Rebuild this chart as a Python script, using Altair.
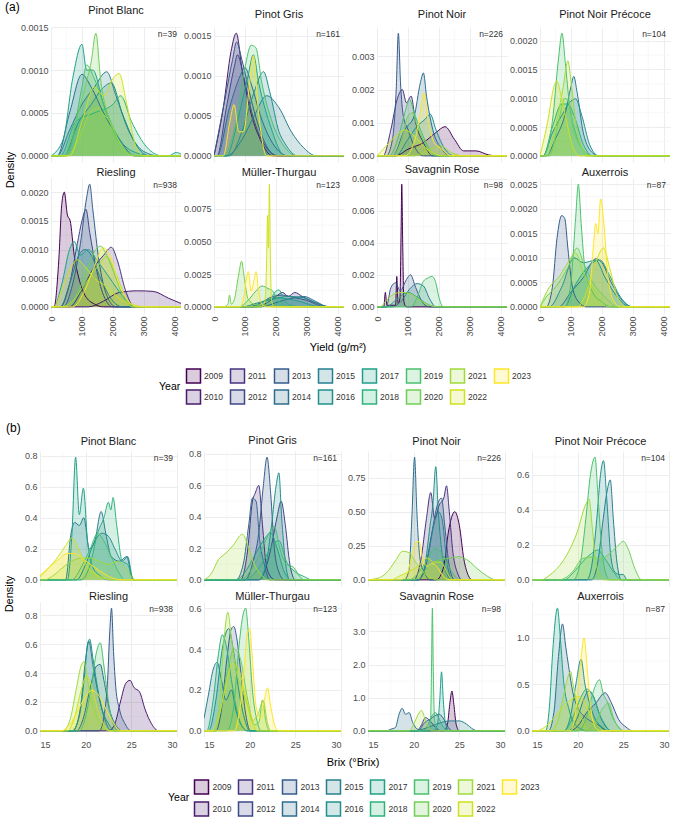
import altair as alt
import pandas as pd

FONT = "Liberation Sans"

# ---- shared categories ----------------------------------------------------
YEARS = [str(y) for y in range(2009, 2024)]
PALETTE = ["#440154", "#481B6D", "#46337E", "#3F4889", "#365C8D", "#2E6E8E",
           "#277F8E", "#21908C", "#1FA187", "#2DB27D", "#4AC16D", "#71CF57",
           "#9FDA3A", "#CFE11C", "#FDE725"]
VARIETIES = ["Pinot Blanc", "Pinot Gris", "Pinot Noir", "Pinot Noir Précoce",
             "Riesling", "Müller-Thurgau", "Savagnin Rose", "Auxerrois"]
N_OBS = [39, 161, 226, 104, 938, 123, 98, 87]

# ---- (a) yield density curves: {year: [(yield g/m2, density), ...]} -------
YIELD_PINOT_BLANC = {
    2014: [(200, 0), (600, 5.0e-4), (1000, 9.5e-4), (1300, 8.0e-4), (1700, 5.0e-4), (2200, 2.0e-4), (2700, 0)],
    2015: [(200, 0), (600, 3.0e-4), (1000, 6.0e-4), (1400, 8.0e-4), (1800, 9.8e-4), (2100, 7.0e-4), (2500, 3.0e-4), (3000, 0.5e-4), (3500, 0)],
    2016: [(400, 0), (900, 4.0e-4), (1300, 6.0e-4), (1700, 8.0e-4), (1950, 8.5e-4), (2300, 5.0e-4), (2800, 1.0e-4), (3200, 0)],
    2017: [(0, 0), (400, 2.0e-4), (700, 9.0e-4), (1000, 13.0e-4), (1150, 10.0e-4), (1350, 10.0e-4), (1700, 6.0e-4), (2200, 2.0e-4), (2800, 0.3e-4), (3300, 0), (3800, 0), (4050, 0.4e-4), (4200, 0.2e-4)],
    2018: [(300, 0), (800, 4.0e-4), (1400, 5.0e-4), (2000, 6.0e-4), (2250, 7.0e-4), (2600, 4.0e-4), (3100, 1.0e-4), (3600, 0)],
    2019: [(500, 0), (1000, 8.0e-4), (1150, 10.6e-4), (1400, 9.0e-4), (1800, 5.0e-4), (2300, 1.0e-4), (2800, 0)],
    2020: [(400, 0), (800, 4.0e-4), (1100, 8.0e-4), (1300, 11.0e-4), (1450, 14.3e-4), (1600, 9.0e-4), (1900, 4.0e-4), (2300, 1.0e-4), (2700, 0)],
    2021: [(500, 0), (900, 2.0e-4), (1250, 5.0e-4), (1500, 5.6e-4), (1650, 5.0e-4), (1900, 4.0e-4), (2300, 1.0e-4), (2700, 0)],
    2022: [(600, 0), (1000, 4.0e-4), (1400, 8.0e-4), (1700, 7.0e-4), (2000, 9.0e-4), (2200, 9.6e-4), (2450, 6.0e-4), (2750, 1.0e-4), (3000, 0)],
}
YIELD_PINOT_GRIS = {
    2010: [(0, 0), (300, 6e-4), (550, 13e-4), (720, 15.3e-4), (900, 11e-4), (1150, 6e-4), (1500, 2e-4), (1900, 0)],
    2012: [(100, 0), (400, 6e-4), (650, 11e-4), (760, 12.6e-4), (950, 10e-4), (1250, 5e-4), (1700, 1e-4), (2100, 0)],
    2013: [(0, 0), (350, 7e-4), (600, 12e-4), (730, 14.2e-4), (900, 12e-4), (1200, 7e-4), (1600, 2e-4), (2000, 0)],
    2014: [(100, 0), (500, 6e-4), (850, 10e-4), (1000, 11e-4), (1200, 9e-4), (1500, 5e-4), (2000, 1e-4), (2400, 0)],
    2015: [(400, 0), (900, 2e-4), (1300, 5e-4), (1700, 7.5e-4), (2100, 6e-4), (2500, 3e-4), (2900, 1e-4), (3300, 0)],
    2016: [(500, 0), (900, 3e-4), (1300, 8e-4), (1600, 10.5e-4), (1800, 8e-4), (2100, 3e-4), (2300, 1.5e-4), (2700, 0)],
    2017: [(400, 0), (800, 5e-4), (1100, 10e-4), (1270, 12.6e-4), (1450, 9e-4), (1800, 4e-4), (2300, 0)],
    2019: [(300, 0), (700, 4e-4), (1000, 11e-4), (1200, 13.8e-4), (1350, 13.5e-4), (1550, 9e-4), (1900, 4e-4), (2300, 1e-4), (2700, 0)],
    2023: [(300, 0), (500, 4e-4), (650, 6.4e-4), (800, 3e-4), (950, 3e-4), (1150, 9e-4), (1270, 12.5e-4), (1450, 5e-4), (1700, 0)],
}
YIELD_PINOT_NOIR = {
    2009: [(600, 0), (1000, 2e-4), (1500, 4e-4), (1900, 7e-4), (2200, 8.8e-4), (2500, 5e-4), (2800, 1.5e-4), (3200, 1.5e-4), (3600, 0.3e-4), (3900, 0)],
    2011: [(200, 0), (450, 8e-4), (650, 17e-4), (820, 20e-4), (950, 16e-4), (1100, 18e-4), (1250, 10e-4), (1500, 4e-4), (1800, 0)],
    2013: [(300, 0), (500, 5e-4), (620, 20e-4), (690, 37e-4), (760, 22e-4), (850, 12e-4), (1000, 8e-4), (1200, 3e-4), (1500, 0)],
    2014: [(500, 0), (900, 8e-4), (1200, 12e-4), (1400, 22e-4), (1500, 25e-4), (1600, 18e-4), (1800, 8e-4), (2100, 2e-4), (2400, 0)],
    2016: [(600, 0), (1000, 5e-4), (1300, 9e-4), (1550, 11e-4), (1720, 12.6e-4), (1900, 8e-4), (2200, 2e-4), (2500, 0)],
    2019: [(400, 0), (700, 6e-4), (900, 13e-4), (1050, 17e-4), (1200, 13e-4), (1400, 8e-4), (1700, 2e-4), (2000, 0)],
    2020: [(500, 0), (800, 5e-4), (1000, 12e-4), (1150, 13e-4), (1300, 9e-4), (1600, 3e-4), (1900, 0)],
    2021: [(1200, 0), (1700, 2e-4), (2050, 3e-4), (2400, 1e-4), (2800, 0)],
    2022: [(0, 0), (300, 3e-4), (600, 6e-4), (900, 7.8e-4), (1200, 6e-4), (1500, 3e-4), (1800, 1e-4), (2100, 0)],
    2023: [(900, 0), (1200, 4e-4), (1400, 13e-4), (1510, 19e-4), (1650, 11e-4), (1850, 4e-4), (2100, 2e-4), (2400, 0)],
}
YIELD_PINOT_NOIR_PRECOCE = {
    2015: [(200, 0), (500, 3e-4), (800, 7e-4), (1000, 12e-4), (1090, 13.8e-4), (1200, 11e-4), (1400, 4e-4), (1700, 0.5e-4), (1900, 0)],
    2016: [(100, 0), (400, 4e-4), (700, 7e-4), (1000, 9.5e-4), (1150, 9.9e-4), (1350, 7e-4), (1600, 2e-4), (1900, 0)],
    2018: [(100, 0), (400, 5e-4), (700, 9e-4), (900, 9e-4), (1100, 7e-4), (1400, 2e-4), (1700, 0)],
    2019: [(100, 0), (400, 6e-4), (600, 17e-4), (710, 21.3e-4), (820, 16e-4), (950, 9e-4), (1150, 4e-4), (1400, 1e-4), (1700, 0)],
    2020: [(300, 0), (600, 6e-4), (800, 10e-4), (950, 9e-4), (1100, 4e-4), (1300, 2e-4), (1500, 0)],
    2021: [(200, 0), (500, 5e-4), (750, 12e-4), (900, 16.5e-4), (1000, 13e-4), (1150, 6e-4), (1400, 1e-4), (1600, 0)],
    2022: [(0, 0), (250, 6e-4), (450, 12e-4), (540, 13e-4), (700, 10e-4), (900, 5e-4), (1100, 1e-4), (1300, 0)],
}
YIELD_RIESLING = {
    2009: [(100, 0), (250, 8e-4), (350, 18e-4), (430, 20e-4), (530, 16e-4), (620, 15e-4), (750, 9e-4), (900, 5e-4), (1100, 2e-4), (1400, 0.5e-4), (1700, 0)],
    2010: [(1200, 0), (1700, 1e-4), (2200, 2.5e-4), (2800, 2.8e-4), (3300, 2.7e-4), (3800, 1.5e-4), (4200, 0.6e-4)],
    2011: [(600, 0), (1000, 3e-4), (1400, 7e-4), (1700, 9e-4), (1950, 10.4e-4), (2150, 8e-4), (2400, 3e-4), (2700, 0)],
    2012: [(300, 0), (600, 4e-4), (850, 11e-4), (1000, 15e-4), (1130, 17e-4), (1250, 13e-4), (1450, 7e-4), (1700, 2e-4), (2000, 0)],
    2013: [(400, 0), (700, 4e-4), (950, 11e-4), (1150, 19e-4), (1250, 21.4e-4), (1350, 17e-4), (1550, 8e-4), (1800, 2e-4), (2100, 0)],
    2015: [(300, 0), (600, 4e-4), (900, 9e-4), (1100, 10e-4), (1300, 9e-4), (1600, 5e-4), (2000, 1e-4), (2300, 0)],
    2017: [(100, 0), (350, 4e-4), (600, 10e-4), (750, 11.4e-4), (950, 9e-4), (1200, 10e-4), (1500, 8e-4), (1900, 5e-4), (2300, 2e-4), (2700, 0)],
    2020: [(500, 0), (900, 3e-4), (1200, 7e-4), (1450, 10e-4), (1600, 10.6e-4), (1800, 9e-4), (2100, 5e-4), (2400, 1e-4), (2700, 0)],
    2021: [(300, 0), (700, 1e-4), (1100, 4e-4), (1500, 7e-4), (1800, 8.8e-4), (2000, 7e-4), (2300, 3e-4), (2600, 0)],
    2022: [(100, 0), (350, 3e-4), (650, 7e-4), (860, 8.2e-4), (1100, 7e-4), (1400, 5e-4), (1800, 3.5e-4), (2200, 1.5e-4), (2700, 0.3e-4), (3100, 0)],
    2023: [(700, 0), (1100, 3e-4), (1400, 7e-4), (1700, 10.3e-4), (1900, 9e-4), (2200, 4e-4), (2500, 1e-4), (2800, 0)],
}
YIELD_MULLER_THURGAU = {
    2011: [(1300, 0), (1700, 3e-4), (2000, 8e-4), (2220, 11e-4), (2400, 8e-4), (2610, 11e-4), (2850, 8e-4), (3100, 5e-4), (3400, 2e-4), (3800, 0)],
    2013: [(1100, 0), (1500, 3e-4), (1900, 8e-4), (2200, 9e-4), (2600, 7e-4), (3000, 5e-4), (3400, 1e-4), (3700, 0)],
    2014: [(1500, 0), (2100, 4e-4), (2600, 7e-4), (2900, 8e-4), (3300, 4e-4), (3700, 0)],
    2016: [(900, 0), (1400, 3e-4), (1900, 6e-4), (2400, 8e-4), (2900, 7e-4), (3300, 3e-4), (3700, 0)],
    2017: [(1200, 0), (1700, 5e-4), (2000, 7e-4), (2400, 6e-4), (2800, 4e-4), (3200, 1e-4), (3500, 0)],
    2018: [(1500, 0), (1800, 5e-4), (2000, 12e-4), (2100, 13e-4), (2250, 6e-4), (2500, 1e-4), (2800, 0)],
    2019: [(800, 0), (1100, 5e-4), (1350, 12e-4), (1550, 16e-4), (1750, 14e-4), (1900, 12e-4), (2050, 6e-4), (2300, 0)],
    2020: [(300, 0), (450, 2e-4), (500, 9e-4), (560, 2e-4), (650, 5e-4), (800, 25e-4), (890, 35e-4), (980, 22e-4), (1100, 6e-4), (1300, 2e-4), (1600, 1e-4), (1900, 0)],
    2022: [(1550, 0), (1650, 5e-4), (1700, 35e-4), (1730, 70e-4), (1760, 45e-4), (1790, 94e-4), (1820, 40e-4), (1860, 5e-4), (1950, 0)],
    2023: [(850, 0), (950, 6e-4), (1050, 22e-4), (1110, 27e-4), (1200, 12e-4), (1290, 20e-4), (1360, 27e-4), (1440, 12e-4), (1550, 2e-4), (1700, 0)],
}
YIELD_SAVAGNIN_ROSE = {
    2009: [(220, 0), (270, 9e-4), (320, 1e-4), (600, 1e-4), (640, 19e-4), (680, 2e-4), (740, 5e-4), (780, 50e-4), (800, 76.5e-4), (830, 40e-4), (870, 3e-4), (950, 0)],
    2013: [(300, 0), (450, 12e-4), (600, 15e-4), (750, 10e-4), (950, 17e-4), (1080, 20e-4), (1250, 12e-4), (1500, 2e-4), (1700, 0)],
    2015: [(500, 0), (800, 4e-4), (1050, 11e-4), (1300, 14.5e-4), (1500, 13e-4), (1700, 5e-4), (1900, 0)],
    2017: [(300, 0), (600, 4e-4), (1000, 9e-4), (1300, 6e-4), (1600, 2e-4), (1900, 0)],
    2019: [(1100, 0), (1300, 6e-4), (1500, 16e-4), (1650, 18e-4), (1780, 19e-4), (1900, 15e-4), (2000, 6e-4), (2150, 0)],
    2021: [(100, 0), (300, 4e-4), (550, 8e-4), (800, 9e-4), (1100, 8e-4), (1400, 4e-4), (1700, 1e-4), (2000, 0)],
}
YIELD_AUXERROIS = {
    2013: [(200, 0), (400, 4e-4), (550, 14e-4), (700, 18.6e-4), (800, 18e-4), (900, 12e-4), (1050, 4e-4), (1250, 1e-4), (1500, 0)],
    2014: [(600, 0), (1000, 3e-4), (1400, 6e-4), (1800, 9.8e-4), (2000, 9e-4), (2300, 5e-4), (2700, 1e-4), (3000, 0)],
    2016: [(300, 0), (700, 4e-4), (1100, 10e-4), (1400, 9e-4), (1800, 9.5e-4), (2100, 6e-4), (2500, 2e-4), (2900, 0)],
    2017: [(800, 0), (1100, 4e-4), (1400, 7e-4), (1700, 9e-4), (1950, 9.5e-4), (2200, 7e-4), (2600, 2e-4), (3000, 0)],
    2019: [(800, 0), (1000, 5e-4), (1150, 18e-4), (1240, 25e-4), (1330, 17e-4), (1450, 8e-4), (1700, 3e-4), (2000, 1e-4), (2300, 0)],
    2020: [(0, 0), (200, 2e-4), (500, 4e-4), (900, 8e-4), (1200, 12e-4), (1400, 9e-4), (1700, 5e-4), (2100, 2e-4), (2500, 0)],
    2021: [(0, 0), (300, 4e-4), (600, 6e-4), (900, 9e-4), (1150, 11e-4), (1400, 7e-4), (1800, 3e-4), (2200, 0)],
    2022: [(1200, 0), (1500, 3e-4), (1800, 9e-4), (2050, 12e-4), (2250, 8e-4), (2500, 2e-4), (2800, 0)],
    2023: [(1400, 0), (1600, 3e-4), (1720, 12e-4), (1800, 17e-4), (1870, 15e-4), (1960, 22e-4), (2050, 18e-4), (2200, 6e-4), (2400, 1e-4), (2600, 0)],
}

# ---- (b) Brix density curves: {year: [(°Brix, density), ...]} ------------
BRIX_PINOT_BLANC = {
    2015: [(17.8, 0), (18.4, 0.3), (18.8, 0.37), (19.3, 0.35), (19.8, 0.4), (20.4, 0.2), (21.0, 0.25), (21.7, 0.44), (22.2, 0.3), (22.8, 0.15), (23.7, 0.12), (24.5, 0.15), (25.0, 0.03), (25.4, 0)],
    2016: [(19.0, 0), (20.0, 0.1), (21.0, 0.25), (21.8, 0.3), (22.5, 0.28), (23.2, 0.2), (24.0, 0.12), (24.6, 0.15), (25.2, 0)],
    2017: [(18.0, 0), (18.5, 0.3), (18.9, 0.79), (19.3, 0.42), (19.75, 0.59), (20.2, 0.25), (20.8, 0.08), (21.5, 0.03), (22.5, 0)],
    2018: [(19.5, 0), (20.5, 0.1), (21.3, 0.3), (22.0, 0.4), (22.5, 0.5), (22.75, 0.45), (23.0, 0.53), (23.4, 0.35), (24.0, 0.12), (24.6, 0.1), (25.2, 0)],
    2019: [(18.5, 0), (19.5, 0.08), (20.5, 0.2), (21.3, 0.3), (22.0, 0.25), (22.8, 0.15), (23.6, 0.05), (24.3, 0)],
    2021: [(15.5, 0), (16.5, 0.03), (17.5, 0.08), (18.5, 0.12), (19.5, 0.14), (20.5, 0.14), (21.5, 0.12), (22.5, 0.1), (23.5, 0.12), (24.3, 0.08), (25.0, 0.02), (25.5, 0)],
    2022: [(15.0, 0.02), (16.0, 0.08), (17.0, 0.15), (17.8, 0.22), (18.5, 0.27), (19.2, 0.2), (20.0, 0.1), (21.0, 0.04), (22.0, 0.01), (23.0, 0)],
    2023: [(15.0, 0.03), (16.0, 0.08), (17.0, 0.13), (18.0, 0.17), (18.8, 0.17), (19.8, 0.13), (21.0, 0.08), (22.0, 0.04), (23.0, 0.01), (24.0, 0)],
}
BRIX_PINOT_GRIS = {
    2011: [(19.0, 0), (19.8, 0.2), (20.3, 0.5), (20.6, 0.55), (21.0, 0.6), (21.4, 0.35), (21.8, 0.1), (22.3, 0.02), (22.8, 0)],
    2012: [(21.0, 0), (21.8, 0.08), (22.5, 0.25), (23.0, 0.4), (23.45, 0.5), (23.9, 0.35), (24.4, 0.1), (25.0, 0)],
    2013: [(19.5, 0), (20.3, 0.1), (21.0, 0.3), (21.5, 0.6), (21.9, 0.78), (22.3, 0.55), (22.7, 0.2), (23.2, 0.05), (23.8, 0)],
    2014: [(18.5, 0), (19.3, 0.1), (19.9, 0.35), (20.3, 0.52), (20.7, 0.5), (21.1, 0.25), (21.6, 0.1), (22.2, 0)],
    2016: [(21.0, 0), (21.8, 0.1), (22.4, 0.35), (22.9, 0.6), (23.2, 0.68), (23.5, 0.4), (23.9, 0.12), (24.4, 0)],
    2017: [(18.5, 0), (19.5, 0.05), (20.5, 0.15), (21.5, 0.25), (22.3, 0.3), (23.0, 0.2), (23.8, 0.05), (24.5, 0)],
    2018: [(19.5, 0), (20.5, 0.04), (21.5, 0.12), (22.5, 0.22), (23.2, 0.25), (24.0, 0.12), (25.0, 0.05), (26.0, 0.02), (26.8, 0)],
    2019: [(19.0, 0), (20.0, 0.05), (21.0, 0.15), (22.0, 0.28), (22.7, 0.34), (23.3, 0.2), (24.0, 0.1), (24.8, 0.08), (25.5, 0.02), (26.0, 0)],
    2021: [(15.0, 0), (15.8, 0.04), (16.6, 0.13), (17.4, 0.17), (18.2, 0.22), (19.2, 0.29), (19.8, 0.22), (20.5, 0.1), (21.3, 0.03), (22.0, 0)],
}
BRIX_PINOT_NOIR = {
    2009: [(22.5, 0), (23.3, 0.1), (23.8, 0.35), (24.5, 0.5), (25.0, 0.4), (25.5, 0.15), (26.0, 0.03), (26.4, 0)],
    2011: [(20.0, 0), (20.8, 0.15), (21.4, 0.45), (21.87, 0.64), (22.3, 0.45), (22.8, 0.55), (23.3, 0.6), (23.6, 0.69), (23.9, 0.5), (24.3, 0.2), (24.8, 0.05), (25.3, 0)],
    2013: [(20.5, 0), (21.3, 0.1), (22.0, 0.35), (22.6, 0.55), (23.05, 0.6), (23.4, 0.4), (23.9, 0.1), (24.5, 0)],
    2014: [(19.0, 0), (19.5, 0.08), (19.8, 0.45), (20.1, 0.9), (20.35, 0.5), (20.7, 0.15), (21.2, 0.05), (21.8, 0)],
    2015: [(20.5, 0), (21.5, 0.15), (22.2, 0.4), (22.7, 0.5), (23.1, 0.45), (23.6, 0.15), (24.2, 0)],
    2016: [(20.5, 0), (21.2, 0.1), (21.8, 0.4), (22.1, 0.55), (22.42, 0.83), (22.7, 0.5), (23.1, 0.2), (23.6, 0.05), (24.2, 0)],
    2019: [(19.5, 0), (20.5, 0.05), (21.5, 0.15), (22.3, 0.23), (23.0, 0.2), (23.8, 0.1), (24.5, 0.03), (25.0, 0)],
    2020: [(20.0, 0), (21.0, 0.05), (22.0, 0.12), (23.0, 0.15), (24.0, 0.16), (25.0, 0.17), (26.0, 0.14), (27.0, 0.08), (28.0, 0.03), (29.0, 0)],
    2021: [(15.0, 0), (16.0, 0.01), (17.0, 0.05), (18.0, 0.14), (18.8, 0.21), (19.5, 0.2), (20.3, 0.12), (21.0, 0.06), (21.8, 0.02), (22.5, 0)],
    2022: [(17.5, 0), (18.5, 0.03), (19.5, 0.06), (20.5, 0.1), (21.5, 0.16), (22.2, 0.13), (23.0, 0.13), (23.6, 0.06), (24.3, 0)],
    2023: [(18.5, 0), (19.3, 0.05), (19.9, 0.2), (20.3, 0.28), (20.6, 0.28), (21.0, 0.15), (21.5, 0.1), (22.0, 0.12), (22.5, 0.1), (23.0, 0.05), (23.5, 0.01), (24.0, 0)],
}
BRIX_PINOT_NOIR_PRECOCE = {
    2015: [(21.5, 0), (22.2, 0.1), (22.8, 0.35), (23.2, 0.5), (23.57, 0.57), (23.9, 0.35), (24.3, 0.1), (24.8, 0)],
    2016: [(21.0, 0), (21.6, 0.1), (22.1, 0.35), (22.5, 0.6), (22.83, 0.68), (23.2, 0.45), (23.6, 0.15), (24.0, 0.05), (24.6, 0.03), (25.0, 0.03), (25.4, 0)],
    2018: [(18.5, 0), (19.5, 0.04), (20.5, 0.1), (21.5, 0.15), (22.2, 0.17), (23.0, 0.12), (24.0, 0.04), (24.8, 0)],
    2019: [(19.5, 0), (20.3, 0.1), (20.9, 0.35), (21.4, 0.6), (21.9, 0.7), (22.2, 0.5), (22.6, 0.2), (23.0, 0.05), (23.5, 0)],
    2020: [(18.0, 0), (19.5, 0.05), (20.5, 0.12), (21.5, 0.13), (22.5, 0.12), (23.5, 0.15), (24.5, 0.2), (25.0, 0.22), (25.5, 0.18), (26.3, 0.06), (27.0, 0)],
    2021: [(16.0, 0), (17.0, 0.03), (18.0, 0.08), (19.0, 0.16), (20.0, 0.28), (20.8, 0.42), (21.25, 0.46), (21.6, 0.3), (22.0, 0.1), (22.5, 0.02), (23.0, 0)],
}
BRIX_RIESLING = {
    2010: [(22.5, 0), (23.2, 0.05), (23.8, 0.2), (24.4, 0.33), (24.85, 0.35), (25.3, 0.3), (25.9, 0.27), (26.5, 0.15), (27.2, 0.05), (28.0, 0)],
    2013: [(21.5, 0), (22.0, 0.1), (22.4, 0.35), (22.65, 0.7), (22.83, 0.85), (23.05, 0.55), (23.3, 0.3), (23.7, 0.15), (24.3, 0.05), (25.0, 0)],
    2014: [(19.0, 0), (19.8, 0.1), (20.5, 0.3), (21.2, 0.45), (21.6, 0.46), (22.0, 0.35), (22.6, 0.15), (23.2, 0.05), (24.0, 0)],
    2015: [(18.6, 0), (19.4, 0.15), (20.0, 0.5), (20.35, 0.62), (20.8, 0.45), (21.4, 0.25), (22.0, 0.1), (22.8, 0)],
    2016: [(18.5, 0), (19.3, 0.1), (19.9, 0.4), (20.2, 0.6), (20.44, 0.635), (20.8, 0.5), (21.3, 0.3), (21.8, 0.15), (22.5, 0.05), (23.2, 0)],
    2019: [(19.3, 0), (20.0, 0.1), (20.6, 0.3), (21.2, 0.55), (21.6, 0.61), (22.0, 0.45), (22.5, 0.2), (23.0, 0.05), (23.6, 0)],
    2021: [(17.5, 0), (18.3, 0.08), (19.0, 0.3), (19.5, 0.45), (19.82, 0.48), (20.2, 0.35), (20.7, 0.2), (21.3, 0.08), (22.0, 0.02), (22.5, 0)],
    2022: [(18.0, 0), (18.8, 0.1), (19.5, 0.28), (20.1, 0.38), (20.7, 0.3), (21.3, 0.15), (22.0, 0.04), (22.6, 0)],
    2023: [(17.3, 0), (18.2, 0.04), (19.0, 0.12), (19.8, 0.22), (20.7, 0.28), (21.5, 0.24), (22.3, 0.14), (23.0, 0.06), (23.8, 0)],
}
BRIX_MULLER_THURGAU = {
    2013: [(16.3, 0), (16.9, 0.1), (17.5, 0.35), (18.0, 0.5), (18.27, 0.51), (18.6, 0.45), (19.0, 0.3), (19.5, 0.1), (20.1, 0)],
    2015: [(15.0, 0.06), (15.5, 0.18), (16.0, 0.3), (16.43, 0.335), (16.9, 0.25), (17.4, 0.15), (18.0, 0.2), (18.5, 0.1), (19.2, 0.02), (19.8, 0)],
    2016: [(15.5, 0), (16.3, 0.15), (17.0, 0.4), (17.7, 0.5), (18.2, 0.4), (18.8, 0.2), (19.5, 0.05), (20.0, 0)],
    2018: [(15.3, 0), (16.0, 0.15), (16.6, 0.38), (17.0, 0.47), (17.5, 0.4), (18.0, 0.25), (18.6, 0.1), (19.2, 0.02), (19.7, 0)],
    2019: [(17.5, 0), (18.2, 0.1), (18.8, 0.4), (19.2, 0.55), (19.56, 0.6), (19.9, 0.45), (20.3, 0.2), (20.8, 0.05), (21.3, 0)],
    2020: [(16.0, 0), (16.8, 0.1), (17.6, 0.3), (18.3, 0.4), (19.0, 0.35), (19.8, 0.15), (20.5, 0.03), (21.0, 0.04), (21.4, 0.15), (21.8, 0.04), (22.2, 0)],
    2021: [(16.0, 0), (16.7, 0.15), (17.2, 0.45), (17.61, 0.58), (18.0, 0.45), (18.5, 0.3), (19.2, 0.2), (19.8, 0.12), (20.3, 0.05), (20.9, 0.08), (21.5, 0.15), (21.9, 0.05), (22.3, 0)],
    2022: [(15.8, 0), (16.5, 0.05), (17.3, 0.2), (18.1, 0.33), (18.8, 0.3), (19.5, 0.18), (20.2, 0.07), (20.8, 0)],
    2023: [(18.3, 0), (18.9, 0.1), (19.4, 0.3), (19.75, 0.48), (20.0, 0.5), (20.3, 0.35), (20.7, 0.12), (21.2, 0.06), (21.6, 0.15), (21.95, 0.21), (22.3, 0.12), (22.8, 0.02), (23.2, 0)],
}
BRIX_SAVAGNIN_ROSE = {
    2009: [(23.3, 0), (23.7, 0.2), (23.95, 0.8), (24.19, 1.2), (24.4, 0.8), (24.65, 0.2), (25.0, 0)],
    2012: [(20.3, 0), (20.8, 0.15), (21.3, 0.4), (21.8, 0.3), (22.4, 0.1), (23.0, 0)],
    2013: [(20.5, 0), (21.2, 0.25), (21.8, 0.35), (22.3, 0.45), (22.8, 0.5), (23.3, 0.35), (23.8, 0.1), (24.3, 0)],
    2014: [(17.0, 0), (17.5, 0.05), (18.0, 0.1), (18.4, 0.5), (18.75, 0.68), (19.1, 0.5), (19.5, 0.55), (19.9, 0.25), (20.4, 0.05), (21.0, 0)],
    2015: [(20.0, 0), (21.0, 0.05), (22.0, 0.15), (23.0, 0.25), (24.0, 0.3), (25.0, 0.3), (25.8, 0.2), (26.5, 0.05), (27.0, 0)],
    2017: [(22.2, 0), (22.6, 0.2), (22.85, 0.9), (23.05, 1.78), (23.25, 0.9), (23.5, 0.2), (23.9, 0)],
    2018: [(21.0, 0), (21.5, 0.15), (22.0, 0.45), (22.4, 0.55), (22.8, 0.35), (23.3, 0.1), (23.8, 0)],
    2019: [(21.6, 0), (21.85, 0.3), (21.95, 1.8), (22.05, 3.7), (22.15, 1.8), (22.3, 0.3), (22.6, 0)],
    2021: [(19.5, 0), (20.0, 0.2), (20.5, 0.5), (20.84, 0.62), (21.2, 0.4), (21.6, 0.1), (22.0, 0)],
}
BRIX_AUXERROIS = {
    2013: [(19.0, 0), (20.0, 0.05), (21.0, 0.2), (22.0, 0.3), (23.0, 0.41), (23.7, 0.3), (24.5, 0.12), (25.3, 0.04), (26.0, 0)],
    2014: [(16.8, 0), (17.4, 0.2), (17.9, 0.8), (18.34, 1.15), (18.7, 0.9), (19.0, 0.7), (19.5, 0.4), (20.0, 0.25), (20.8, 0.15), (21.5, 0.1), (22.5, 0.05), (23.3, 0)],
    2015: [(19.0, 0), (20.0, 0.15), (20.7, 0.35), (21.2, 0.43), (21.8, 0.35), (22.5, 0.15), (23.2, 0.03), (23.8, 0)],
    2016: [(18.5, 0), (19.2, 0.15), (19.8, 0.5), (20.37, 0.77), (20.8, 0.5), (21.3, 0.3), (21.8, 0.15), (22.5, 0.05), (23.0, 0)],
    2017: [(16.5, 0), (16.9, 0.25), (17.3, 0.9), (17.79, 1.32), (18.1, 1.0), (18.5, 0.5), (19.0, 0.25), (19.5, 0.1), (20.2, 0.03), (21.0, 0)],
    2018: [(18.5, 0), (19.5, 0.15), (20.3, 0.35), (21.0, 0.45), (21.7, 0.38), (22.3, 0.2), (23.0, 0.07), (23.6, 0)],
    2019: [(20.0, 0), (20.8, 0.1), (21.5, 0.35), (22.0, 0.5), (22.39, 0.55), (22.8, 0.4), (23.3, 0.3), (23.8, 0.15), (24.5, 0.04), (25.0, 0)],
    2020: [(21.0, 0), (22.0, 0.1), (22.8, 0.25), (23.4, 0.3), (23.9, 0.15), (24.5, 0.03), (25.0, 0)],
    2021: [(17.0, 0), (17.8, 0.1), (18.5, 0.4), (19.0, 0.6), (19.22, 0.64), (19.5, 0.5), (20.0, 0.25), (20.6, 0.1), (21.2, 0)],
    2022: [(15.5, 0), (16.5, 0.05), (17.5, 0.15), (18.5, 0.27), (19.5, 0.35), (20.2, 0.37), (20.8, 0.3), (21.5, 0.15), (22.3, 0.04), (23.0, 0)],
    2023: [(19.2, 0), (19.7, 0.15), (20.2, 0.6), (20.7, 1.0), (21.1, 0.6), (21.5, 0.2), (22.0, 0.03), (22.5, 0)],
}

YIELD_CURVES = [YIELD_PINOT_BLANC, YIELD_PINOT_GRIS, YIELD_PINOT_NOIR, YIELD_PINOT_NOIR_PRECOCE,
                YIELD_RIESLING, YIELD_MULLER_THURGAU, YIELD_SAVAGNIN_ROSE, YIELD_AUXERROIS]
BRIX_CURVES = [BRIX_PINOT_BLANC, BRIX_PINOT_GRIS, BRIX_PINOT_NOIR, BRIX_PINOT_NOIR_PRECOCE,
               BRIX_RIESLING, BRIX_MULLER_THURGAU, BRIX_SAVAGNIN_ROSE, BRIX_AUXERROIS]

# ---- axis ticks and labels ------------------------------------------------
YIELD_DOMAIN = [0, 4200]
YIELD_XTICKS = [0, 1000, 2000, 3000, 4000]
YIELD_XMINOR = [500, 1500, 2500, 3500]
YIELD_YTICKS = [
    [0, 0.0005, 0.001, 0.0015],
    [0, 0.0005, 0.001, 0.0015],
    [0, 0.001, 0.002, 0.003],
    [0, 0.0005, 0.001, 0.0015, 0.002],
    [0, 0.0005, 0.001, 0.0015, 0.002],
    [0, 0.0025, 0.005, 0.0075],
    [0, 0.002, 0.004, 0.006, 0.008],
    [0, 0.0005, 0.001, 0.0015, 0.002, 0.0025],
]
YIELD_YLABELS = [
    ["0.0000", "0.0005", "0.0010", "0.0015"],
    ["0.0000", "0.0005", "0.0010", "0.0015"],
    ["0.000", "0.001", "0.002", "0.003"],
    ["0.0000", "0.0005", "0.0010", "0.0015", "0.0020"],
    ["0.0000", "0.0005", "0.0010", "0.0015", "0.0020"],
    ["0.0000", "0.0025", "0.0050", "0.0075"],
    ["0.000", "0.002", "0.004", "0.006", "0.008"],
    ["0.0000", "0.0005", "0.0010", "0.0015", "0.0020", "0.0025"],
]
BRIX_DOMAIN = [15, 30]
BRIX_XTICKS = [15, 20, 25, 30]
BRIX_XMINOR = [17.5, 22.5, 27.5]
BRIX_YTICKS = [
    [0, 0.2, 0.4, 0.6, 0.8],
    [0, 0.2, 0.4, 0.6, 0.8],
    [0, 0.25, 0.5, 0.75],
    [0, 0.2, 0.4, 0.6],
    [0, 0.2, 0.4, 0.6, 0.8],
    [0, 0.2, 0.4, 0.6],
    [0, 1, 2, 3],
    [0, 0.5, 1.0],
]
BRIX_YLABELS = [
    ["0.0", "0.2", "0.4", "0.6", "0.8"],
    ["0.0", "0.2", "0.4", "0.6", "0.8"],
    ["0.0", "0.25", "0.50", "0.75"],
    ["0.0", "0.2", "0.4", "0.6"],
    ["0.0", "0.2", "0.4", "0.6", "0.8"],
    ["0.0", "0.2", "0.4", "0.6"],
    ["0.0", "1.0", "2.0", "3.0"],
    ["0.0", "0.5", "1.0"],
]

# ---- styling --------------------------------------------------------------
PANEL_H = 135
GRID = "#EBEBEB"
GRID_MINOR = "#F4F4F4"
TICK_COLOR = "#4D4D4D"
COLOR_SCALE = alt.Scale(domain=YEARS, range=PALETTE)
NO_FRAME = alt.ViewBackground(stroke="transparent", strokeWidth=0)
ONE_ROW = pd.DataFrame({"k": [0]})


def label_expr(ticks, labels):
    """Nested ternary mapping each tick value to its label."""
    expr = repr(labels[-1])
    for i in range(len(ticks) - 2, -1, -1):
        mid = (ticks[i] + ticks[i + 1]) / 2
        expr = f"datum.value < {mid} ? {labels[i]!r} : ({expr})"
    return expr


def panel(curves, n, title, xdom, xticks, xminor, yticks, ylabels,
          width, show_x, label_angle, title_offset):
    rows = []
    for year in sorted(curves):
        pts = list(curves[year])
        if pts[0][0] > xdom[0]:
            pts.insert(0, (xdom[0], 0.0))
        if pts[-1][0] < xdom[1]:
            pts.append((xdom[1], 0.0))
        rows.extend({"year": str(year), "x": x, "density": d} for x, d in pts)
    df = pd.DataFrame(rows)
    peak = df["density"].max()
    ytop = 1.05 * peak
    step = yticks[1] - yticks[0]
    yminor = [t + step / 2 for t in yticks if t + step / 2 <= ytop]

    xscale = alt.Scale(domain=xdom, nice=False, zero=False)
    yscale = alt.Scale(domain=[-0.05 * peak, ytop], nice=False, zero=False)
    if show_x:
        xaxis = alt.Axis(values=xticks, title=None, ticks=False, domain=False,
                         format="d", labelAngle=label_angle, labelPadding=3,
                         labelFontSize=9, labelColor=TICK_COLOR, gridColor=GRID,
                         gridWidth=0.9, labelFont=FONT)
    else:
        xaxis = alt.Axis(values=xticks, title=None, ticks=False, domain=False,
                         labels=False, gridColor=GRID, gridWidth=0.9)
    yaxis = alt.Axis(values=yticks, title=None, ticks=False, domain=False,
                     labelExpr=label_expr(yticks, ylabels), labelPadding=3,
                     labelFontSize=9, labelColor=TICK_COLOR, gridColor=GRID,
                     gridWidth=0.9, labelFont=FONT)
    X = alt.X("x:Q", scale=xscale, axis=xaxis)
    Y = alt.Y("density:Q", scale=yscale, axis=yaxis, stack=False)

    minor_x = alt.Chart(pd.DataFrame({"x": xminor})).mark_rule(
        color=GRID_MINOR, strokeWidth=0.6).encode(x=X)
    minor_y = alt.Chart(pd.DataFrame({"density": yminor})).mark_rule(
        color=GRID_MINOR, strokeWidth=0.6).encode(y=Y)
    area = alt.Chart(df).mark_area(
        interpolate="monotone", fillOpacity=0.2, clip=True).encode(
        x=X, y=Y, fill=alt.Fill("year:N", scale=COLOR_SCALE, legend=None))
    line = alt.Chart(df).mark_line(
        interpolate="monotone", strokeWidth=1, clip=True).encode(
        x=X, y=Y, stroke=alt.Stroke("year:N", scale=COLOR_SCALE, legend=None))
    ntext = alt.Chart(pd.DataFrame({"label": [f"n={n}"]})).mark_text(
        align="right", baseline="middle", fontSize=8.5, color="#333333",
        font=FONT).encode(x=alt.value(width - 4), y=alt.value(7), text="label:N")

    return alt.layer(minor_x, minor_y, area, line, ntext).properties(
        width=width, height=PANEL_H, view=NO_FRAME,
        title=alt.TitleParams(title, fontSize=11, fontWeight="normal", font=FONT,
                              color="#1A1A1A", offset=title_offset,
                              frame="group", anchor="middle"))


def text_mark(text, x, y, size, **kw):
    return alt.Chart(pd.DataFrame({"t": [text]})).mark_text(
        fontSize=size, font=FONT, color="black", **kw).encode(
        text="t:N", x=alt.value(x), y=alt.value(y))


def header_cell(width, tag, tag_x, tag_y, dens_x, xtitle, xt_x, xt_y):
    return alt.layer(
        text_mark(tag, tag_x, tag_y, 12, align="left", baseline="middle"),
        text_mark("Density", dens_x, PANEL_H + 8, 11, align="center",
                  baseline="middle", angle=270),
        text_mark(xtitle, xt_x, xt_y, 11, align="center", baseline="middle"),
    ).properties(width=width, height=PANEL_H, view=NO_FRAME)


def empty_cell(width):
    return alt.Chart(ONE_ROW).mark_point(opacity=0).encode(
        x=alt.value(0), y=alt.value(0)).properties(
        width=width, height=PANEL_H, view=NO_FRAME)


def legend_cell(width, x0, y0, y1, year_x, year_y, dx):
    ldf = pd.DataFrame({"year": YEARS,
                        "col": [i // 2 for i in range(len(YEARS))],
                        "row": [i % 2 for i in range(len(YEARS))]})
    LX = alt.X("col:Q", scale=alt.Scale(domain=[0, 7], range=[x0, x0 + 7 * 44]), axis=None)
    LY = alt.Y("row:Q", scale=alt.Scale(domain=[0, 1], range=[y0, y1]), axis=None)
    boxes = alt.Chart(ldf).mark_square(
        size=196, fillOpacity=0.2, strokeWidth=1.5, opacity=1).encode(
        x=LX, y=LY,
        fill=alt.Fill("year:N", scale=COLOR_SCALE, legend=None),
        stroke=alt.Stroke("year:N", scale=COLOR_SCALE, legend=None))
    labels = alt.Chart(ldf).mark_text(
        align="left", baseline="middle", dx=dx, fontSize=8.5, font=FONT,
        color="#333333").encode(x=LX, y=LY, text="year:N")
    title = text_mark("Year", year_x, year_y, 10.5, align="left", baseline="middle")
    return alt.layer(boxes, labels, title).properties(
        width=width, height=70, view=NO_FRAME)


def section(curves_list, xdom, xticks, xminor, yticks_list, ylabels_list,
            width, label_angle, offsets, header, legend, col_gap, lead_w):
    panels = []
    for i in range(8):
        panels.append(panel(curves_list[i], N_OBS[i], VARIETIES[i], xdom, xticks,
                            xminor, yticks_list[i], ylabels_list[i], width,
                            show_x=i >= 4, label_angle=label_angle,
                            title_offset=offsets[i // 4]))
    cells = [header] + panels[:4] + [empty_cell(lead_w)] + panels[4:] + [legend]
    return alt.concat(*cells, columns=5, spacing={"row": 16, "column": col_gap},
                      bounds="flush", align="each")


# ---- (a) yield ------------------------------------------------------------
sect_a = section(
    YIELD_CURVES, YIELD_DOMAIN, YIELD_XTICKS, YIELD_XMINOR, YIELD_YTICKS, YIELD_YLABELS,
    width=130, label_angle=270, offsets=[7, 0],
    header=header_cell(6, "(a)", -7, -20, -1, "Yield (g/m²)", 326, 321),
    legend=legend_cell(6, 181.5, 47, 68, 147, 57.5, 10.5),
    col_gap=33, lead_w=6)

# ---- (b) Brix -------------------------------------------------------------
sect_b = section(
    BRIX_CURVES, BRIX_DOMAIN, BRIX_XTICKS, BRIX_XMINOR, BRIX_YTICKS, BRIX_YLABELS,
    width=137, label_angle=0, offsets=[4, 0],
    header=header_cell(1, "(b)", -6, -23, -2, "Brix (°Brix)", 341, 312),
    legend=legend_cell(1, 189.5, 34, 56, 156, 45, 11),
    col_gap=27, lead_w=1)

chart = alt.vconcat(sect_a, sect_b, spacing=15).properties(
    padding={"left": 4, "top": 1, "right": 2, "bottom": 2},
    background="white",
).configure_view(stroke="transparent", strokeWidth=0).configure(font=FONT)

chart.save("out.html", embed_options={"renderer": "svg", "actions": False})
